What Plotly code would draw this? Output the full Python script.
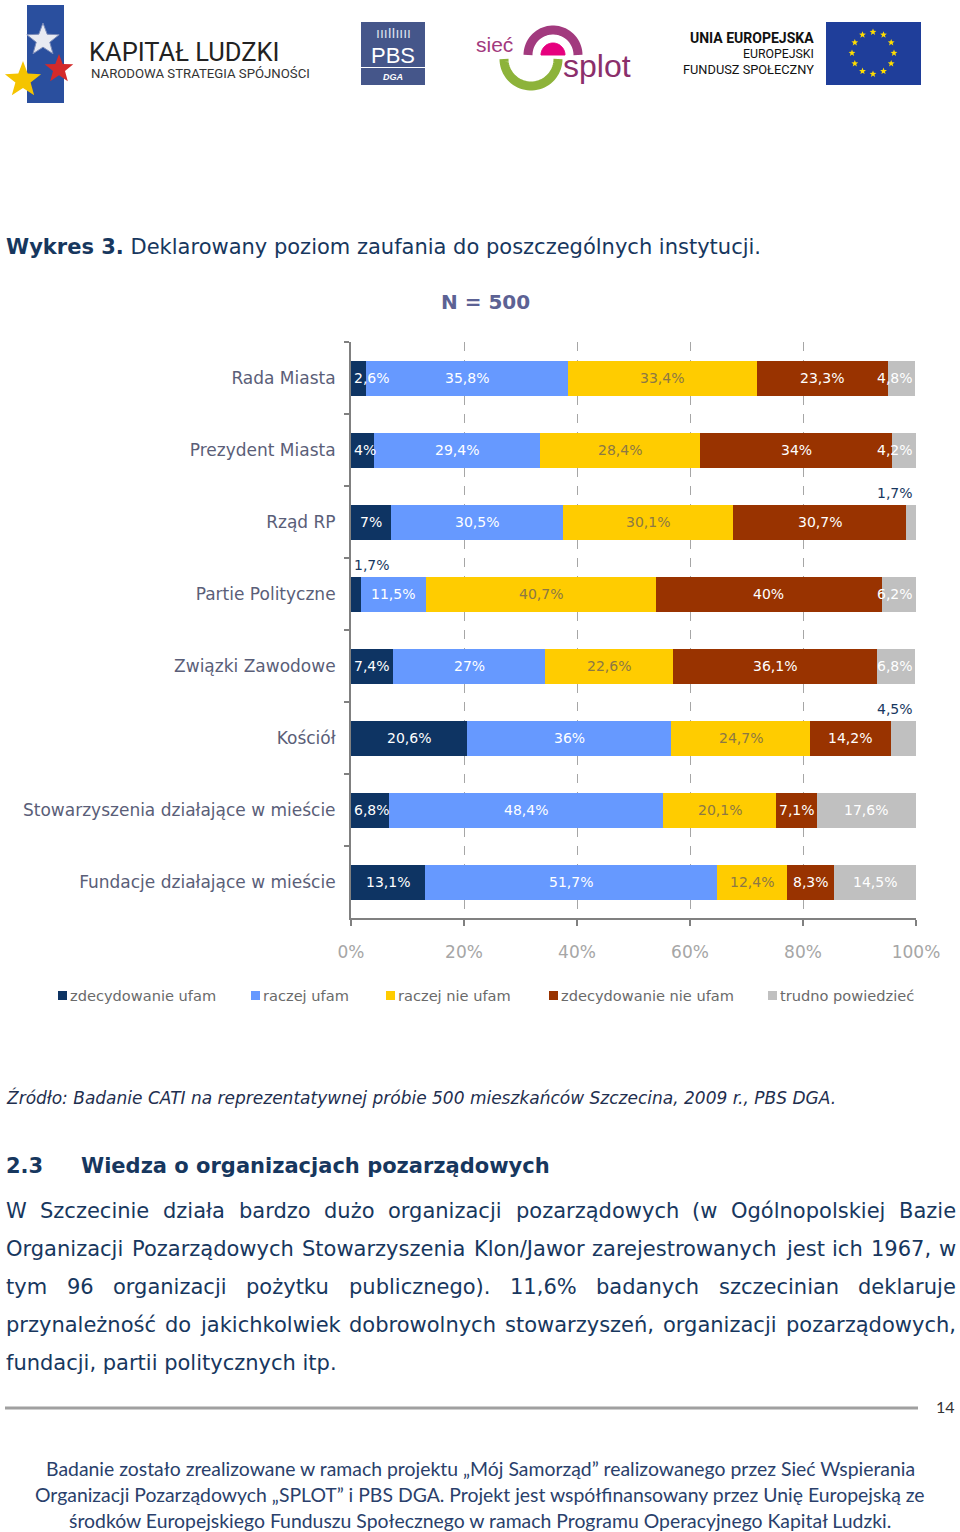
import numpy as np
import plotly.graph_objects as go

# ---------------- DATA ----------------
categories = ["Rada Miasta", "Prezydent Miasta", "Rząd RP", "Partie Polityczne",
              "Związki Zawodowe", "Kościół", "Stowarzyszenia działające w mieście",
              "Fundacje działające w mieście"]
series_names = ["zdecydowanie ufam", "raczej ufam", "raczej nie ufam",
                "zdecydowanie nie ufam", "trudno powiedzieć"]
zdecydowanie_ufam = [2.6, 4, 7, 1.7, 7.4, 20.6, 6.8, 13.1]
raczej_ufam = [35.8, 29.4, 30.5, 11.5, 27, 36, 48.4, 51.7]
raczej_nie_ufam = [33.4, 28.4, 30.1, 40.7, 22.6, 24.7, 20.1, 12.4]
zdecydowanie_nie_ufam = [23.3, 34, 30.7, 40, 36.1, 14.2, 7.1, 8.3]
trudno_powiedziec = [4.8, 4.2, 1.7, 6.2, 6.8, 4.5, 17.6, 14.5]
x_tick_values = [0, 20, 40, 60, 80, 100]
x_tick_labels = ["0%", "20%", "40%", "60%", "80%", "100%"]

series_values = [zdecydowanie_ufam, raczej_ufam, raczej_nie_ufam,
                 zdecydowanie_nie_ufam, trudno_powiedziec]

# ---------------- STYLE ----------------
W, H = 960, 1532
PL, PR, PT, PB = 351, 916, 342, 918
FONT = "DejaVu Sans"
series_colors = ["#0E3463", "#6699FF", "#FFCC00", "#993300", "#C0C0C0"]
label_colors = ["white", "white", "#8C7845", "white", "white"]
outside_labels = {(2, 4), (3, 0), (5, 4)}   # (category index, series index) labels drawn above bar
NAVY = "#17375E"


def P(x, y):
    return x / W, 1 - y / H


def fmt(v):
    s = f"{v:.1f}".replace(".", ",")
    if s.endswith(",0"):
        s = s[:-2]
    return s + "%"


fig = go.Figure()
for name, vals, col in zip(series_names, series_values, series_colors):
    fig.add_trace(go.Bar(y=categories, x=vals, name=name, orientation="h",
                         marker=dict(color=col, line=dict(width=0)),
                         showlegend=False, hoverinfo="skip"))

annotations = []
shapes = []

# data labels
CHW = {d: 8.9 for d in "0123456789"}
CHW[","] = 4.5
CHW["%"] = 13.3
ppu = (PR - PL) / 100.0
for i, cat in enumerate(categories):
    start = 0.0
    for j, vals in enumerate(series_values):
        v = vals[i]
        c = start + v / 2
        start += v
        txt = fmt(v)
        half = (sum(CHW[ch] for ch in txt) / 2 + 3) / ppu
        c = min(max(c, half), 100 - half)
        out = (i, j) in outside_labels
        annotations.append(dict(x=c, y=cat, xref="x", yref="y", text=txt, showarrow=False,
                                yshift=29 if out else 0,
                                font=dict(family=FONT, size=14,
                                          color=NAVY if out else label_colors[j])))


def text(x, y, s, size, color, xanchor="left", family=FONT):
    px, py = P(x, y)
    annotations.append(dict(x=px, y=py, xref="paper", yref="paper", text=s, showarrow=False,
                            xanchor=xanchor, yanchor="middle", borderpad=0,
                            font=dict(family=family, size=size, color=color)))


def rect(x0, y0, x1, y1, fill, line=None, lw=0):
    a, b = P(x0, y0)
    c, d = P(x1, y1)
    shapes.append(dict(type="rect", xref="paper", yref="paper", x0=a, y0=b, x1=c, y1=d,
                       fillcolor=fill, line=dict(color=line or fill, width=lw), layer="above"))


def poly(pts, fill=None, line=None, lw=0, closed=True):
    pp = [P(x, y) for x, y in pts]
    s = "M " + " L ".join(f"{x:.5f},{y:.5f}" for x, y in pp) + (" Z" if closed else "")
    d = dict(type="path", xref="paper", yref="paper", path=s, layer="above",
             line=dict(color=line or fill or "rgba(0,0,0,0)", width=lw))
    if fill:
        d["fillcolor"] = fill
    shapes.append(d)


def arc_pts(cx, cy, r, a0, a1, n=40):
    t = np.linspace(np.radians(a0), np.radians(a1), n)
    return [(cx + r * np.cos(a), cy - r * np.sin(a)) for a in t]


def star(cx, cy, R, fill, line=None, lw=0):
    pts = []
    for k in range(10):
        rr = R if k % 2 == 0 else R * 0.42
        a = np.radians(90 + 36 * k)
        pts.append((cx + rr * np.cos(a), cy - rr * np.sin(a)))
    poly(pts, fill=fill, line=line, lw=lw)


# approximate DejaVu Sans advance widths (em) used for justifying paragraph lines
ADV = {" ": .318, "W": .989, "S": .635, "O": .787, "B": .686, "K": .656, "J": .295, "P": .603,
       "a": .613, "b": .635, "c": .550, "d": .635, "e": .615, "f": .352, "g": .635, "h": .634,
       "i": .278, "j": .278, "k": .579, "l": .278, "ł": .300, "m": .974, "n": .634, "ń": .634,
       "o": .612, "ó": .612, "p": .635, "r": .411, "s": .521, "ś": .521, "t": .392, "u": .634,
       "w": .818, "y": .592, "z": .525, "ż": .525, "ą": .613, "ć": .550, "/": .337, "(": .390,
       ")": .390, ".": .318, ",": .318, "%": .950}


def tw(s, size):
    return sum(ADV.get(ch, .636) for ch in s) * size


def justify(line, y, size, x0=5, x1=955):
    words = line.split(" ")
    widths = [tw(w, size) for w in words]
    gap = (x1 - x0 - sum(widths)) / (len(words) - 1)
    x = x0
    for w, wd in zip(words, widths):
        text(x, y, w, size, NAVY)
        x += wd + gap


# legend (manual)
leg_x = [58, 251, 386, 549, 768]
for lx, name, col in zip(leg_x, series_names, series_colors):
    rect(lx, 991, lx + 9, 1000, col)
    text(lx + 11, 995, name, 14.6, "#6A6A6A")

# ---------------- page texts ----------------
text(5, 247, "<b>Wykres 3.</b> Deklarowany poziom zaufania do poszczególnych instytucji.", 21, NAVY)
text(485, 302, "<b>N = 500</b>", 20, "#5C6294", xanchor="center")
text(5, 1097, "<i>Źródło: Badanie CATI na reprezentatywnej próbie 500 mieszkańców Szczecina, 2009 r., PBS DGA.</i>",
     17, "#1F2F4F")
text(5, 1166, "<b>2.3</b>", 21, NAVY)
text(80, 1166, "<b>Wiedza o organizacjach pozarządowych</b>", 21, NAVY)

para = ["W Szczecinie działa bardzo dużo organizacji pozarządowych (w Ogólnopolskiej Bazie",
        "Organizacji Pozarządowych Stowarzyszenia Klon/Jawor zarejestrowanych jest ich 1967, w",
        "tym 96 organizacji pożytku publicznego). 11,6% badanych szczecinian deklaruje",
        "przynależność do jakichkolwiek dobrowolnych stowarzyszeń, organizacji pozarządowych,",
        "fundacji, partii politycznych itp."]
for k, s in enumerate(para):
    yy = 1211 + 38 * k
    if k < 4:
        justify(s, yy, 21)
    else:
        text(5, yy, s, 21, NAVY)

# page footer
a, b = P(5, 1408)
c, d = P(918, 1408)
shapes.append(dict(type="line", xref="paper", yref="paper", x0=a, y0=b, x1=c, y1=d,
                   line=dict(color="#A0A0A0", width=3)))
text(945, 1406, "14", 16, "#333333", xanchor="center", family="Lato")
footer = ["Badanie zostało zrealizowane w ramach projektu „Mój Samorząd” realizowanego przez Sieć Wspierania",
          "Organizacji Pozarządowych „SPLOT” i PBS DGA. Projekt jest współfinansowany przez Unię Europejską ze",
          "środków Europejskiego Funduszu Społecznego w ramach Programu Operacyjnego Kapitał Ludzki."]
for k, s in enumerate(footer):
    text(480, 1468 + 26 * k, s, 19.4, "#2A3F6B", xanchor="center", family="Lato")

# ---------------- logos (decorative) ----------------
rect(27, 5, 64, 103, "#2A4F9E")
star(43, 40, 17, "#E8EAF2", line="#7A8AB8", lw=1)
star(59, 69, 15, "#D42A2A")
star(23, 80, 19, "#F5C400")
text(88, 52, "KAPITAŁ LUDZKI", 25.5, "#222222", family="Roboto")
text(90, 74, "NARODOWA STRATEGIA SPÓJNOŚCI", 13.2, "#333333", family="Roboto")

rect(361, 22, 425, 85, "#45568A")
rect(361, 67, 425, 68, "#FFFFFF")
text(393, 55, "PBS", 22, "white", xanchor="center", family="Liberation Sans")
text(393, 77, "<i><b>DGA</b></i>", 9, "white", xanchor="center", family="Liberation Sans")
text(393, 33, "ıııIIıııı", 14, "#DDE2EE", xanchor="center", family="Liberation Sans")

text(475, 44, "sieć", 21, "#A23A7E", family="Liberation Sans")
poly(arc_pts(553, 55, 25, 180, 0), line="#A23A7E", lw=9, closed=False)
poly(arc_pts(553, 55, 12, 180, 0), fill="#E6007E", line="#E6007E", lw=1)
poly(arc_pts(531, 59, 27, 180, 360), line="#8DB33A", lw=9, closed=False)
text(562, 66, "splot", 32, "#8B2F6B", family="Liberation Sans")

text(815, 38, "<b>UNIA EUROPEJSKA</b>", 14, "#111111", xanchor="right", family="Roboto")
text(815, 54, "EUROPEJSKI", 12.3, "#111111", xanchor="right", family="Roboto")
text(815, 70, "FUNDUSZ SPOŁECZNY", 12.8, "#111111", xanchor="right", family="Roboto")
rect(826, 22, 921, 85, "#1F3E9A")
for k in range(12):
    ang = np.radians(90 - 30 * k)
    star(873 + 21 * np.cos(ang), 53 - 21 * np.sin(ang), 3.6, "#FFDD00")

# ---------------- layout ----------------
fig.update_layout(
    width=W, height=H, autosize=False,
    margin=dict(l=0, r=0, t=0, b=0, pad=0, autoexpand=False),
    paper_bgcolor="white", plot_bgcolor="white",
    barmode="stack", bargap=1 - 35 / 72,
    showlegend=False, hovermode=False,
    xaxis=dict(domain=[PL / W, PR / W], range=[0, 100], tickvals=x_tick_values, ticktext=x_tick_labels,
               showgrid=True, gridcolor="#A6A6A6", gridwidth=1, griddash="dash",
               zeroline=False, showline=True, linecolor="#808080", linewidth=2,
               ticks="outside", ticklen=6, tickcolor="#808080", tickwidth=2,
               ticklabelstandoff=12, automargin=False,
               tickfont=dict(family=FONT, size=17, color="#A6A6A6"), fixedrange=True),
    yaxis=dict(domain=[1 - PB / H, 1 - PT / H], autorange="reversed", type="category",
               showgrid=False, zeroline=False, showline=True, linecolor="#808080", linewidth=2,
               ticks="outside", ticklen=5, tickcolor="#808080", tickwidth=2, tickson="boundaries",
               ticklabelstandoff=10, automargin=False,
               tickfont=dict(family=FONT, size=17, color="#5A5E78"), fixedrange=True),
    annotations=annotations, shapes=shapes,
)

fig.write_html("out.html", config={"displayModeBar": False, "staticPlot": True},
               post_script="document.body.style.margin='0';document.body.style.overflow='hidden';")
